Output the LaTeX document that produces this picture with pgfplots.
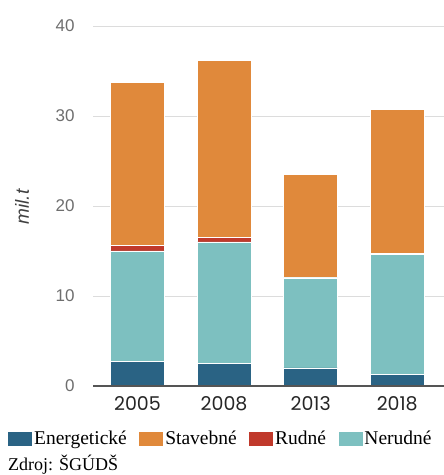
\documentclass[border=0pt]{standalone}
\usepackage{fontspec}
\setmainfont{Liberation Serif}
\newfontfamily\pop{Poppins}
\newfontfamily\lsans{Liberation Sans}
\usepackage{pgfplots}
\pgfplotsset{compat=1.18}
\definecolor{cEner}{HTML}{2A6384}
\definecolor{cStav}{HTML}{E0893B}
\definecolor{cRud}{HTML}{C0392B}
\definecolor{cNer}{HTML}{7DC0C0}
\definecolor{cGrid}{HTML}{DCDCDC}
\definecolor{cAx}{HTML}{555555}
\definecolor{cTick}{HTML}{6E6E6E}
\begin{document}
\begin{tikzpicture}
\path[use as bounding box] (0,0) rectangle (444bp,475bp);
\begin{axis}[
  name=ax,
  at={(93bp,89bp)}, anchor=south west,
  scale only axis, width=351bp, height=360bp,
  ybar stacked, bar width=54bp,
  xmin=-0.514, xmax=3.54,
  ymin=0, ymax=40,
  xtick={0,1,2,3}, xticklabels={2005,2008,2013,2018},
  ytick={0,10,20,30,40},
  axis y line*=left, y axis line style={draw=none},
  axis x line*=bottom, x axis line style={draw=none},
  major tick length=0pt,
  ymajorgrids=true, grid style={cGrid, line width=0.8bp},
  /pgf/number format/assume math mode=true,
  xticklabel style={font=\pop\fontsize{19bp}{22bp}\selectfont, text=black!85, yshift=-7bp},
  yticklabel style={font=\lsans\fontsize{17bp}{20bp}\selectfont, text=cTick, xshift=-15bp},
  legend columns=4,
  legend style={at={(-85bp,-43bp)}, anchor=north west, draw=none, fill=none,
    font=\fontsize{19.5bp}{22bp}\selectfont, inner sep=0pt,
    /tikz/every even column/.append style={column sep=10bp},
    nodes={inner xsep=2.5bp}},
  legend image code/.code={\fill[#1] (0bp,-6.5bp) rectangle (23bp,6.5bp);},
  clip=false,
]
\addplot[fill=cEner, draw=white, line width=0.4bp, forget plot] coordinates {(0,2.7) (1,2.5) (2,2.0) (3,1.3)};
\addplot[fill=cNer, draw=white, line width=0.4bp, forget plot] coordinates {(0,12.3) (1,13.5) (2,10.0) (3,13.3)};
\addplot[fill=cRud, draw=white, line width=0.4bp, forget plot] coordinates {(0,0.6) (1,0.5) (2,0.05) (3,0.1)};
\addplot[fill=cStav, draw=white, line width=0.4bp, forget plot] coordinates {(0,18.1) (1,19.7) (2,11.5) (3,16.0)};
\addlegendimage{cEner}\addlegendentry{Energetické}
\addlegendimage{cStav}\addlegendentry{Stavebné}
\addlegendimage{cRud}\addlegendentry{Rudné}
\addlegendimage{cNer}\addlegendentry{Nerudné}
\end{axis}
\draw[cAx, line width=1.8bp] (ax.south west) -- (ax.south east);
\node[rotate=90, font=\lsans\itshape\fontsize{19bp}{22bp}\selectfont, text=black!75] at (22bp,268bp) {mil.t};
\node[anchor=base west, inner sep=0pt, font=\fontsize{18bp}{22bp}\selectfont] at (8bp,5bp) {Zdroj: ŠGÚDŠ};
\end{tikzpicture}
\end{document}
